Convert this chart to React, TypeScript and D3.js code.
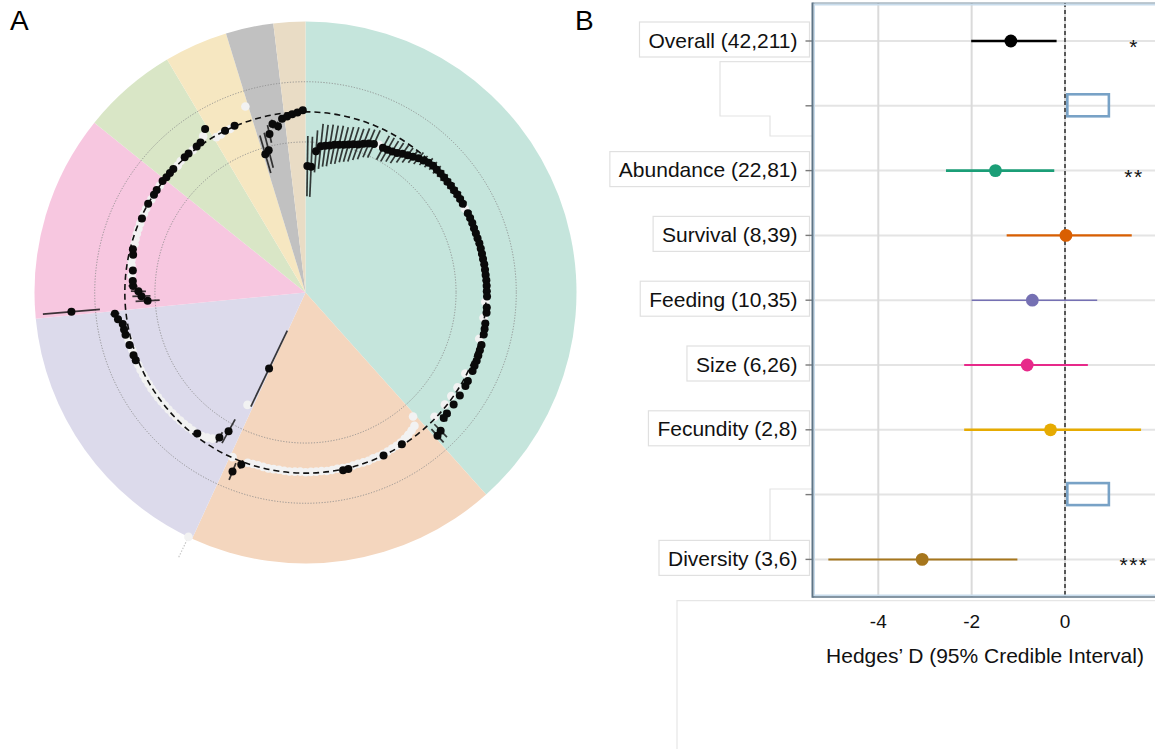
import React from 'react';
import * as d3 from 'd3';

const FONT = "'Liberation Sans', Arial, Helvetica, sans-serif";

// ---------------- Panel A data ----------------
const sectorNames = ['Abundance', 'Survival', 'Feeding', 'Size', 'Group E', 'Fecundity', 'Group G', 'Diversity'];
const sectorCounts = [81, 39, 35, 26, 12, 8, 6, 4];
const sectorFills = ['#c5e5dc', '#f4d6be', '#dcdaeb', '#f7c7e0', '#d9e6c6', '#f6e7c1', '#c1c1c1', '#e9dcc5'];

// [index within group, estimate, half-width of 95% interval]
const abundanceEst = [
  [0, -1.8, 1.0], [1, -1.82, 1.0], [2, -1.3, 0.7], [3, -1.12, 0.75], [4, -1.08, 0.7], [5, -1.05, 0.7], [6, -1.0, 0.65], [7, -0.97, 0.65], [8, -0.93, 0.6], [9, -0.88, 0.6],
  [10, -0.83, 0.6], [11, -0.78, 0.55], [12, -0.7, 0.55], [13, -0.62, 0.5], [14, -0.57, 0.5], [16, -0.55, 0.45], [17, -0.53, 0.45], [18, -0.5, 0.4], [19, -0.46, 0.4],
  [20, -0.38, 0.35], [21, -0.32, 0.3], [22, -0.25, 0.25], [23, -0.17, 0.25], [24, -0.12, 0.2], [25, -0.06, 0.2], [26, -0.03, 0.18], [27, -0.03, 0.18], [28, -0.02, 0.16], [29, -0.02, 0.16],
  [30, -0.02, 0.15], [31, -0.01, 0.15], [32, -0.01, 0.15], [33, 0, 0.15], [34, 0, 0.14], [35, 0, 0.14], [37, 0, 0.14], [38, 0, 0.13], [39, 0, 0.13],
  [40, -0.01, 0.13], [41, -0.01, 0.12], [42, -0.01, 0.12], [43, 0, 0.12], [44, 0, 0.12], [45, 0, 0.12], [46, 0, 0.12], [47, 0.01, 0.12], [48, 0.01, 0.12], [49, 0.01, 0.12],
  [50, 0.02, 0.12], [51, 0.02, 0.12], [52, 0.02, 0.12], [53, 0.03, 0.12], [55, 0.04, 0.12], [56, 0.05, 0.12], [58, 0.06, 0.12], [59, 0.07, 0.12],
  [60, 0.08, 0.12], [62, 0.1, 0.12], [63, 0.1, 0.12], [64, 0.11, 0.12], [65, 0.12, 0.12], [66, 0.12, 0.12], [67, 0.13, 0.12], [69, 0.14, 0.12],
  [70, 0.15, 0.12], [72, 0.16, 0.12], [74, 0.17, 0.12], [76, 0.18, 0.14], [77, 0.2, 0.15], [79, 0.42, 0.3], [80, 0.47, 0.3],
];
const abundanceRaw = [[15, -0.52], [36, -0.02], [54, -0.02], [57, -0.03], [61, -0.03], [68, -0.05], [71, -0.05], [73, -0.06], [75, -0.06], [78, -0.05]];

const survivalEst = [[5, -0.03, 0.08], [9, 0, 0.06], [16, 0.03, 0.06], [17, 0.03, 0.06], [36, 0.1, 0.15], [37, 0.42, 0.3]];
const survivalRaw = [
  [0, -0.55], [1, -0.28], [2, -0.22], [3, -0.17], [4, -0.13], [5, -0.1], [6, -0.08], [7, -0.07], [8, -0.06], [9, -0.05],
  [10, -0.04], [11, -0.05], [12, -0.03], [13, -0.04], [14, -0.05], [15, -0.04], [16, -0.03], [17, -0.04], [18, -0.05], [19, -0.04],
  [20, -0.03], [21, -0.05], [22, -0.04], [23, -0.04], [24, -0.03], [25, -0.05], [26, -0.04], [27, -0.03], [28, -0.04], [29, -0.05],
  [30, -0.04], [31, -0.03], [32, -0.04], [33, -0.05], [34, -0.04], [35, -0.03], [38, -0.02],
];

const feedingEst = [[0, -3.2, 1.4], [2, -0.73, 0.45], [3, -0.4, 0.2], [7, -0.1, 0.08], [25, 0.07, 0.08], [26, 0.08, 0.08], [28, 0.1, 0.1], [30, 0.14, 0.1], [31, 0.15, 0.1], [32, 0.16, 0.12], [33, 0.29, 0.12], [34, 0.37, 0.15]];
const feedingRaw = [
  [0, 3.0], [1, -1.8], [4, -0.25], [5, -0.18], [6, -0.12], [8, -0.08], [9, -0.07], [10, -0.06], [11, -0.05], [12, -0.04], [13, -0.03],
  [14, -0.02], [15, -0.01], [16, 0], [17, 0.01], [18, 0.02], [19, 0.03], [20, 0.03], [21, 0.04], [22, 0.04], [23, 0.05], [24, 0.05], [27, 0.06], [29, 0.08],
];
const feedingRawUpper = [[0, 3.75]];

const sizeEst = [[0, 1.8, 0.95], [1, -0.75, 0.4], [2, -0.55, 0.3], [3, -0.45, 0.25], [4, -0.27, 0.15], [5, -0.25, 0.12], [7, -0.22, 0.1], [10, -0.14, 0.08], [11, -0.09, 0.08], [17, -0.04, 0.05], [20, 0, 0.05], [22, -0.01, 0.05], [23, 0, 0.05], [25, 0.02, 0.05]];
const sizeRaw = [[6, -0.2], [8, -0.15], [9, -0.12], [12, -0.1], [13, -0.08], [14, -0.07], [15, -0.06], [16, -0.05], [18, -0.03], [19, -0.02], [21, -0.02], [24, 0]];

const groupEEst = [[0, 0, 0.05], [1, 0, 0.05], [2, 0.01, 0.05], [5, 0.02, 0.05], [6, 0.03, 0.05], [8, 0.05, 0.06], [9, 0.08, 0.06], [11, 0.37, 0.1]];
const groupERaw = [[3, -0.02], [4, 0.02], [7, 0.03], [10, 0.2]];

const fecundityEst = [[2, 0, 0.05], [4, 0.02, 0.05]];
const fecundityRaw = [[0, -0.05], [1, -0.05], [3, -0.02], [7, 0.49]];

const groupGEst = [[0, -1.22, 0.65], [1, -1.12, 0.6], [2, -0.6, 0.3], [3, -0.3, 0.15], [4, -0.4, 0.15], [5, -0.18, 0.1]];
const groupGRaw: number[][] = [];

const diversityEst = [[0, -0.12, 0.05], [1, -0.06, 0.05], [2, -0.02, 0.05], [3, 0.05, 0.05]];
const diversityRaw: number[][] = [];

const groupEst = [abundanceEst, survivalEst, feedingEst, sizeEst, groupEEst, fecundityEst, groupGEst, diversityEst];
const groupRaw = [abundanceRaw, survivalRaw, feedingRaw, sizeRaw, groupERaw, fecundityRaw, groupGRaw, diversityRaw];
const groupRawUpper = [[], [], feedingRawUpper, [], [], [], [], []];
const radialRings = [-1, 1];

// ---------------- Panel B data ----------------
const rowLabels = ['Overall (42,211)', '', 'Abundance (22,81)', 'Survival (8,39)', 'Feeding (10,35)', 'Size (6,26)', 'Fecundity (2,8)', '', 'Diversity (3,6)'];
const rowMeans = [-1.16, null, -1.49, 0.02, -0.7, -0.81, -0.31, null, -3.06];
const rowLower = [-2.01, null, -2.55, -1.25, -2.0, -2.16, -2.16, null, -5.07];
const rowUpper = [-0.18, null, -0.23, 1.43, 0.69, 0.49, 1.63, null, -1.02];
const rowStars = ['*', '', '**', '', '', '', '', '', '***'];
const rowColors = ['#000000', '', '#1b9e77', '#d95f02', '#7570b3', '#e7298a', '#e6ab02', '', '#a6761d'];
const rowLineWidths = [2.4, 0, 2.6, 2.2, 1.6, 2, 2.6, 0, 2];
const emptyKeyRange = [0.05, 0.94];
const xTicks = [-4, -2, 0];

function measure(text: string, font: string): number {
  try {
    const c = document.createElement('canvas');
    const ctx = c.getContext('2d');
    if (ctx) {
      ctx.font = font;
      return ctx.measureText(text).width;
    }
  } catch (e) {}
  return text.length * 10;
}

export default function App() {
  // ---- Panel A geometry ----
  const cx = 305.5, cy = 292.5, R = 271;
  const rScale = d3.scaleLinear().domain([-6, 3]).range([0, R]);
  const total = d3.sum(sectorCounts);
  const offsets = sectorCounts.map((_, k) => d3.sum(sectorCounts.slice(0, k)));
  const aScale = d3.scaleLinear().domain([0, total]).range([0, 2 * Math.PI]);
  const pol = (v: number, a: number) => {
    const r = rScale(v);
    return [cx + r * Math.sin(a), cy - r * Math.cos(a)];
  };
  const arcGen = d3.arc<any>();

  const sectors = sectorCounts.map((n, k) => ({
    name: sectorNames[k],
    d: arcGen({ innerRadius: 0, outerRadius: R, startAngle: aScale(offsets[k]), endAngle: aScale(offsets[k] + n) }) as string,
    fill: sectorFills[k],
  }));

  const whitePts: { x: number; y: number }[] = [];
  const whiteExt: { x1: number; y1: number; x2: number; y2: number }[] = [];
  const blackPts: { x: number; y: number; x1: number; y1: number; x2: number; y2: number }[] = [];
  groupRaw.forEach((arr, k) => {
    arr.forEach(([i, v]) => {
      const a = aScale(offsets[k] + i + 0.5);
      const [x, y] = pol(v, a);
      whitePts.push({ x, y });
    });
  });
  groupRawUpper.forEach((arr: any, k) => {
    arr.forEach(([i, hi]: number[]) => {
      const a = aScale(offsets[k] + i + 0.5);
      const raw = groupRaw[k].find((p) => p[0] === i);
      const [x1, y1] = pol(raw ? raw[1] : 0, a);
      const [x2, y2] = pol(hi, a);
      whiteExt.push({ x1, y1, x2, y2 });
    });
  });
  groupEst.forEach((arr, k) => {
    arr.forEach(([i, v, e]) => {
      const a = aScale(offsets[k] + i + 0.5);
      const [x, y] = pol(v, a);
      const [x1, y1] = pol(v - e, a);
      const [x2, y2] = pol(v + e, a);
      blackPts.push({ x, y, x1, y1, x2, y2 });
    });
  });

  // ---- Panel B geometry ----
  const xB = d3.scaleLinear().domain([-4, 0]).range([878.3, 1065]);
  const yB = d3.scaleLinear().domain([0, rowLabels.length - 1]).range([41, 559.4]);
  const frameL = 812.5, frameT = 3, frameB = 597, frameR = 1162;
  const labelFont = `21px ${FONT}`;
  const labelRight = 797.5;

  return (
    <svg width={1155} height={749} style={{ position: 'absolute', left: 0, top: 0, background: '#fff' }} fontFamily={FONT}>
      {/* ---------- Panel A ---------- */}
      <text x={10} y={29.5} fontSize={28} fill="#000">A</text>
      <g transform={`translate(${cx},${cy})`}>
        {sectors.map((s) => (
          <path key={s.name} d={s.d} fill={s.fill} />
        ))}
        {radialRings.map((v) => (
          <circle key={v} r={rScale(v)} fill="none" stroke="#8a8a8a" strokeWidth={0.9} strokeDasharray="1.2 1.6" />
        ))}
      </g>
      {whiteExt.map((l, i) => (
        <line key={'we' + i} x1={l.x1} y1={l.y1} x2={l.x2} y2={l.y2} stroke="#c8c8c8" strokeWidth={1.2} strokeDasharray="1.5 1.5" />
      ))}
      {whitePts.map((p, i) => (
        <circle key={'w' + i} cx={p.x} cy={p.y} r={4.3} fill="#f2f2f2" />
      ))}
      <circle cx={cx} cy={cy} r={rScale(0)} fill="none" stroke="#111" strokeWidth={1.6} strokeDasharray="6 4" />
      {blackPts.map((p, i) => (
        <line key={'b' + i} x1={p.x1} y1={p.y1} x2={p.x2} y2={p.y2} stroke="#111" strokeOpacity={0.82} strokeWidth={1.7} />
      ))}
      {blackPts.map((p, i) => (
        <circle key={'p' + i} cx={p.x} cy={p.y} r={4} fill="#0a0a0a" />
      ))}

      {/* ---------- Panel B ---------- */}
      <text x={575} y={29.5} fontSize={28} fill="#000">B</text>

      {/* decorative empty label boxes */}
      <path d="M812,61.7 H720 V116 H770 V136 H812" fill="none" stroke="#e3e3e3" strokeWidth={1.2} />
      <path d="M812,489 H770 V542.3" fill="none" stroke="#e3e3e3" strokeWidth={1.2} />
      <path d="M677,749 V600.7 H1155" fill="none" stroke="#e6e6e6" strokeWidth={1.2} />

      {/* label boxes */}
      {rowLabels.map((lab, i) => {
        if (!lab) return null;
        const w = measure(lab, labelFont);
        const y = yB(i);
        const x0 = labelRight - w - 9;
        return (
          <g key={'lab' + i}>
            <rect x={x0} y={y - 19} width={809.5 - x0} height={35} fill="#fff" stroke="#e0e0e0" strokeWidth={1.2} />
            <text x={labelRight} y={y + 6.5} fontSize={21} textAnchor="end" fill="#111">{lab}</text>
          </g>
        );
      })}

      {/* y ticks */}
      {rowLabels.map((_, i) => (
        <line key={'yt' + i} x1={805.5} x2={812} y1={yB(i)} y2={yB(i)} stroke="#7a7a7a" strokeWidth={1.4} />
      ))}

      {/* gridlines */}
      {rowLabels.map((_, i) => (
        <line key={'hg' + i} x1={frameL} x2={frameR} y1={yB(i)} y2={yB(i)} stroke="#e4e4e4" strokeWidth={2} />
      ))}
      {xTicks.map((t) => (
        <line key={'vg' + t} x1={xB(t)} x2={xB(t)} y1={frameT} y2={frameB} stroke="#dadada" strokeWidth={2} />
      ))}

      {/* zero line */}
      <line x1={xB(0)} x2={xB(0)} y1={frameT} y2={frameB} stroke="#222" strokeWidth={1.4} strokeDasharray="4 3" />

      {/* empty legend keys */}
      {rowMeans.map((m, i) =>
        m === null ? (
          <rect key={'key' + i} x={xB(emptyKeyRange[0])} y={yB(i) - 11.5} width={xB(emptyKeyRange[1]) - xB(emptyKeyRange[0])} height={22} fill="none" stroke="#78a2c6" strokeWidth={2.6} />
        ) : null
      )}

      {/* intervals & means */}
      {rowMeans.map((m, i) =>
        m === null ? null : (
          <g key={'ci' + i}>
            <line x1={xB(rowLower[i] as number)} x2={xB(rowUpper[i] as number)} y1={yB(i)} y2={yB(i)} stroke={rowColors[i]} strokeWidth={rowLineWidths[i]} />
            <circle cx={xB(m)} cy={yB(i)} r={6.4} fill={rowColors[i]} />
          </g>
        )
      )}

      {/* significance stars */}
      {rowStars.map((s, i) =>
        s ? (
          <text key={'st' + i} x={1134} y={yB(i) + 13} fontSize={21} textAnchor="middle" letterSpacing={1.5} fill="#111">{s}</text>
        ) : null
      )}

      {/* frame */}
      <line x1={frameL + 2} x2={frameR} y1={frameT + 1.6} y2={frameT + 1.6} stroke="#c8dcec" strokeWidth={1.6} />
      <line x1={frameL + 2} x2={frameR} y1={frameB - 1.6} y2={frameB - 1.6} stroke="#c8dcec" strokeWidth={1.6} />
      <line x1={frameL + 1.8} x2={frameL + 1.8} y1={frameT} y2={frameB} stroke="#c8dcec" strokeWidth={1.4} />
      <line x1={frameL} x2={frameR} y1={frameT} y2={frameT} stroke="#7e93a4" strokeWidth={1.2} />
      <line x1={frameL} x2={frameR} y1={frameB} y2={frameB} stroke="#5f7586" strokeWidth={1.6} />
      <line x1={frameL} x2={frameL} y1={frameT - 0.6} y2={frameB + 0.8} stroke="#5f7586" strokeWidth={2} />

      {/* x axis */}
      {xTicks.map((t) => (
        <text key={'xt' + t} x={xB(t)} y={627.5} fontSize={19} textAnchor="middle" fill="#111">{String(t)}</text>
      ))}
      <text x={985} y={663} fontSize={21} textAnchor="middle" fill="#111">Hedges’ D (95% Credible Interval)</text>
    </svg>
  );
}
